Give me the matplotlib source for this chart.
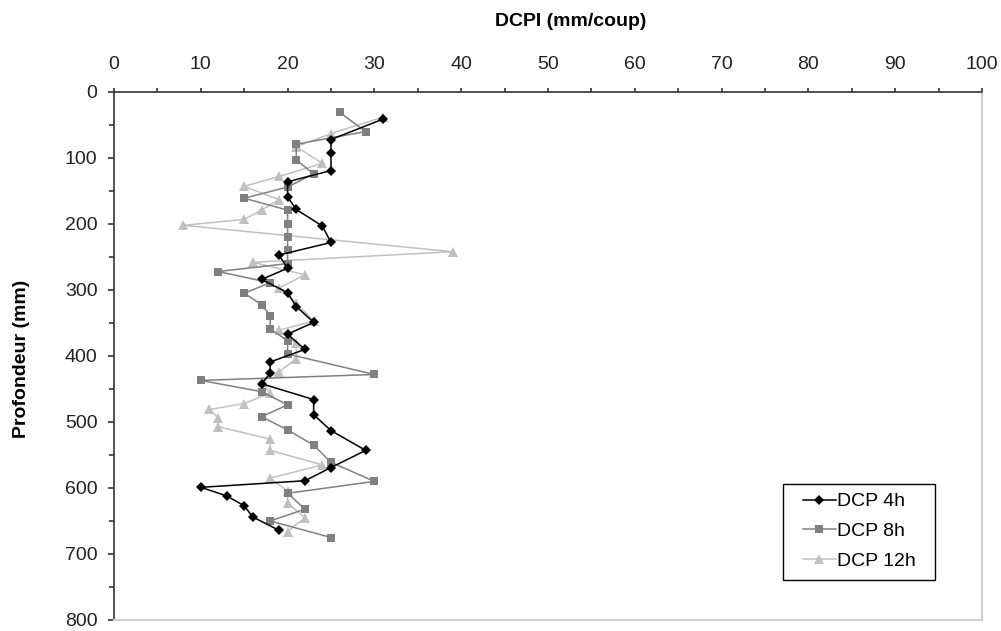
import numpy as np
import matplotlib
matplotlib.use("Agg")
import matplotlib.pyplot as plt
from matplotlib.ticker import MultipleLocator
from matplotlib.patches import Rectangle
from matplotlib.legend_handler import HandlerLine2D

plt.rcParams["font.family"] = ["Liberation Sans", "DejaVu Sans"]

# DCP readings: index (mm/blow) against depth (mm)
dcp4_idx = [31, 25, 25, 25, 20, 20, 21, 24, 25, 19, 20, 17, 20, 21, 23, 20,
            22, 18, 18, 17, 23, 23, 25, 29, 25, 22, 10, 13, 15, 16, 19]
dcp4_depth = [41, 72, 93, 119, 136, 159, 178, 203, 228, 247, 267, 284, 304,
              325, 349, 367, 390, 409, 426, 442, 466, 489, 513, 543, 569,
              589, 599, 612, 627, 644, 664]

dcp8_idx = [26, 29, 21, 21, 23, 20, 15, 20, 20, 20, 20, 20, 12, 18, 15, 17,
            18, 18, 20, 20, 30, 10, 17, 20, 17, 20, 23, 25, 30, 20, 22, 18, 25]
dcp8_depth = [31, 60, 79, 103, 124, 144, 161, 179, 200, 220, 239, 260, 272,
              289, 305, 322, 339, 359, 377, 397, 428, 437, 454, 474, 492,
              512, 535, 561, 590, 608, 632, 650, 675]

dcp12_idx = [31, 25, 21, 24, 19, 15, 19, 17, 15, 8, 39, 16, 22, 19, 21, 23,
             19, 21, 21, 19, 17, 18, 15, 11, 12, 12, 18, 18, 24, 18, 20, 20,
             22, 20]
dcp12_depth = [38, 63, 83, 108, 128, 143, 163, 179, 193, 202, 242, 258, 277,
               297, 320, 347, 361, 381, 404, 424, 439, 456, 472, 481, 494,
               507, 526, 543, 565, 585, 605, 623, 645, 666]

W, H = 1001, 631
fig = plt.figure(figsize=(W / 100, H / 100), dpi=100)
ax = fig.add_axes([114 / W, 1 - 620 / H, 868 / W, 528 / H])

ax.plot(dcp12_idx, dcp12_depth, color="#c0c0c0", lw=1.1, marker="^",
        markersize=7, markeredgewidth=0, label="DCP 12h", zorder=2)
ax.plot(dcp8_idx, dcp8_depth, color="#808080", lw=1.1, marker="s",
        markersize=6, markeredgewidth=0, label="DCP 8h", zorder=3)
ax.plot(dcp4_idx, dcp4_depth, color="black", lw=1.1, marker="D",
        markersize=5.5, markeredgewidth=0, label="DCP 4h", zorder=4)

ax.set_xlim(0, 100)
ax.set_ylim(800, 0)
ax.xaxis.set_major_locator(MultipleLocator(10))
ax.xaxis.set_minor_locator(MultipleLocator(5))
ax.yaxis.set_major_locator(MultipleLocator(100))
ax.yaxis.set_minor_locator(MultipleLocator(50))
ax.xaxis.tick_top()

ax.tick_params(which="both", direction="out", color="#333333", width=1.2,
               labelsize=14, labelcolor="#222222")
ax.tick_params(axis="x", which="major", length=3.2, pad=10.5)
ax.tick_params(axis="x", which="minor", length=2.6)
ax.tick_params(axis="y", which="major", length=4.3, pad=7.5)
ax.tick_params(axis="y", which="minor", length=3.6)

for side in ("left", "top"):
    ax.spines[side].set_color("#333333")
    ax.spines[side].set_linewidth(1.2)
for side in ("right", "bottom"):
    ax.spines[side].set_color("#d0d0d0")
    ax.spines[side].set_linewidth(1.5)

fig.text(571 / W, 1 - 26 / H, "DCPI (mm/coup)", fontsize=14,
         fontweight="bold", ha="center", va="baseline")
fig.text(22 / W, 1 - 359 / H, "Profondeur (mm)", fontsize=14,
         fontweight="bold", rotation=90, ha="center", va="center")

# legend entries without frame, boxed by a separate rectangle
handles, labels = ax.get_legend_handles_labels()
leg = ax.legend(handles[::-1], labels[::-1], loc="upper left",
                bbox_to_anchor=(783 / W, 1 - 487 / H),
                bbox_transform=fig.transFigure, fontsize=14, frameon=False,
                handlelength=2.4, handletextpad=0.1, labelspacing=0.62,
                borderpad=0.3, borderaxespad=0,
                handler_map={h: HandlerLine2D(xpad=0.72) for h in handles})
fig.add_artist(Rectangle((783 / W, 1 - 580 / H), 152 / W, 96 / H,
                         transform=fig.transFigure, fill=False,
                         edgecolor="black", lw=1.0, zorder=5))

fig.savefig("out.png", dpi=100)
